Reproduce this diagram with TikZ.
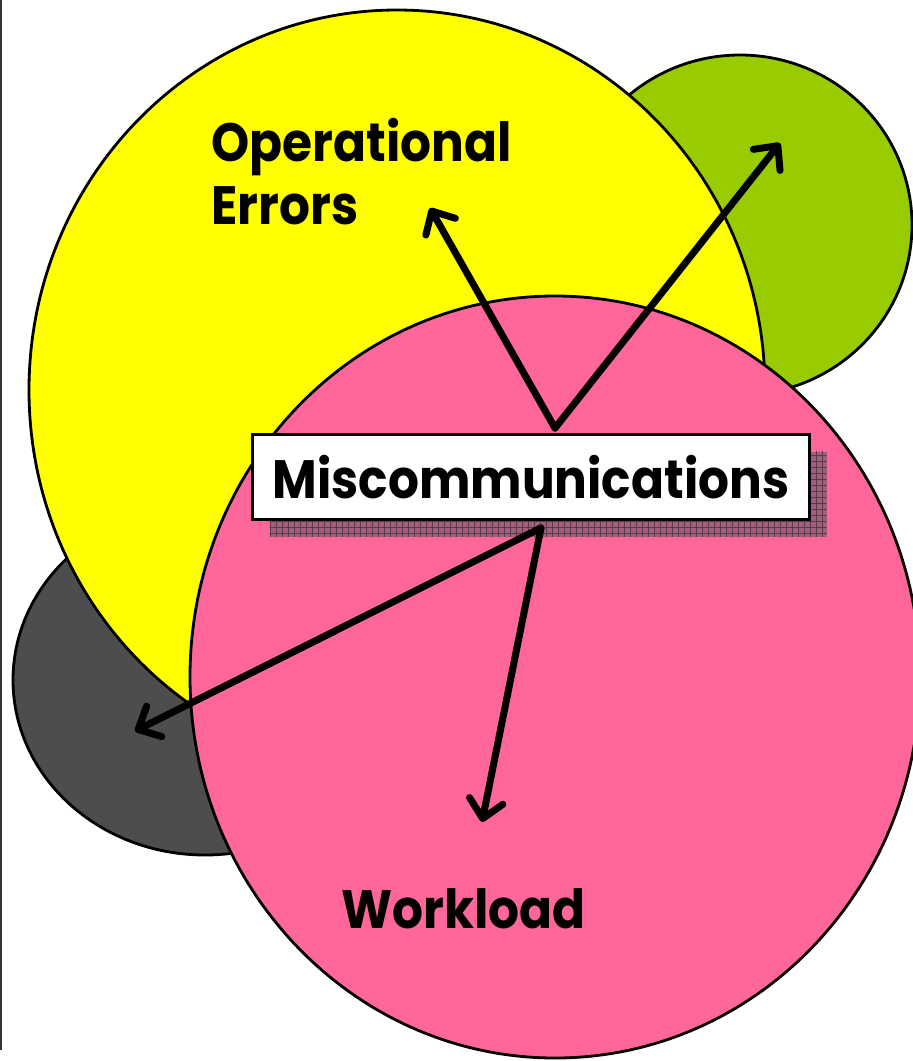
\documentclass[tikz,border=0pt]{standalone}
\usepackage{fontspec}
\setmainfont[FakeStretch=0.9]{Poppins}
\usetikzlibrary{shapes.geometric,arrows.meta,shadows,patterns.meta}

\definecolor{errorsyellow}{RGB}{255,255,0}
\definecolor{othergreen}{RGB}{153,204,0}
\definecolor{othergray}{RGB}{77,77,77}
\definecolor{workloadpink}{RGB}{255,102,153}
\definecolor{shadowmauve}{RGB}{166,92,126}
\definecolor{shadowgrid}{RGB}{85,62,74}

\begin{document}
\begin{tikzpicture}[x=1pt,y=-1pt]
    \tikzstyle{blob}=[ellipse, draw, line width=2.8pt, inner sep=0pt]
    \tikzstyle{label}=[font=\bfseries\fontsize{54}{63}\selectfont, align=left]
    \tikzstyle{pointer}=[line width=7pt, line cap=round, -{Straight Barb[length=18pt,width=34pt,round]}]

    \useasboundingbox (0,0) rectangle (913,1061);
    \draw [line width=1.5pt, black!80] (1,0) -- (1,1050);

    % circles, back to front
    \node [blob, fill=othergreen, minimum width=344pt, minimum height=340pt] (green) at (740,225) {};
    \node [blob, fill=othergray, minimum width=384pt, minimum height=350pt] (gray) at (205,680) {};
    \node [blob, fill=errorsyellow, minimum width=736pt, minimum height=760pt] (errors) at (397,390) {};
    \node [blob, fill=workloadpink, minimum width=730pt, minimum height=762pt] (workload) at (555,677) {};

    \node [label, anchor=base west] (errlabel) at (208,224) {Operational\\Errors};
    \node [label, anchor=base west] (worklabel) at (338,928) {Workload};

    % the box with its grid shadow
    \node [draw, line width=2.8pt, fill=white, minimum width=557pt, minimum height=85pt,
           font=\bfseries\fontsize{54}{60}\selectfont,
           general shadow={fill=shadowmauve, shadow xshift=17pt, shadow yshift=-17pt},
           general shadow={pattern={Hatch[angle=0,distance=6pt,line width=0.7pt]}, pattern color=shadowgrid,
                           shadow xshift=17pt, shadow yshift=-17pt}]
           (misc) at (531,477) {Miscommunications};

    \coordinate (up) at ([shift={(24,-5)}]misc.north);
    \coordinate (down) at ([shift={(10,7)}]misc.south);
    \coordinate (errtip) at (430,208);
    \coordinate (greentip) at (780,143);
    \coordinate (graytip) at (135,731);
    \coordinate (worktip) at (482,822);

    \draw [pointer] (up) -- (errtip);
    \draw [pointer] (up) -- (greentip);
    \draw [pointer] (down) -- (graytip);
    \draw [pointer] (down) -- (worktip);
\end{tikzpicture}
\end{document}
